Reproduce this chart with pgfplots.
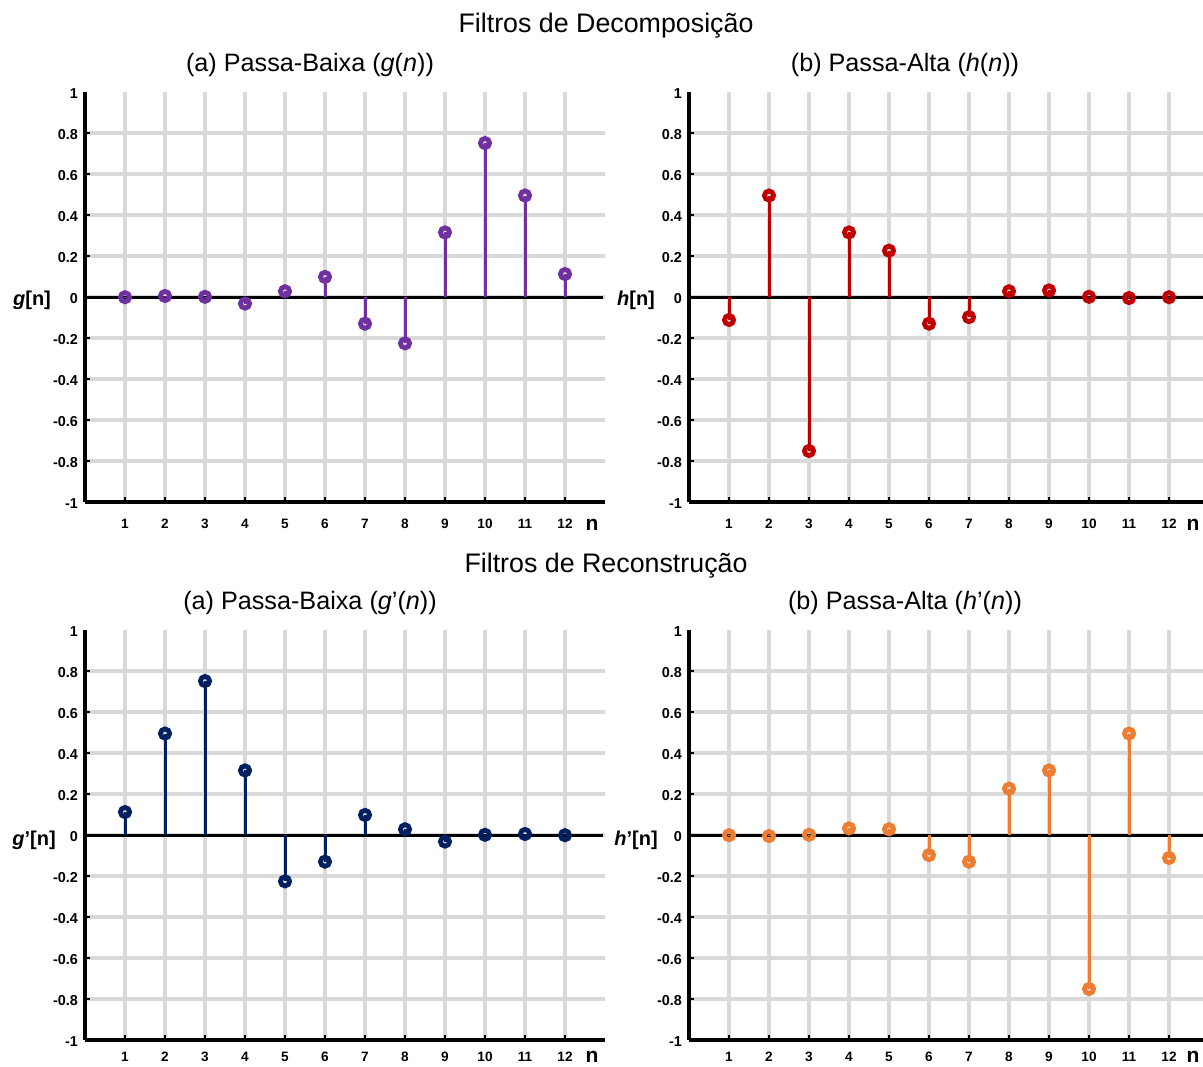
\documentclass[border=0pt]{standalone}
\usepackage{fontspec}
\setmainfont{Liberation Sans}
\usepackage{pgfplots}
\pgfplotsset{compat=1.18}
\definecolor{cpurple}{HTML}{7030A0}
\definecolor{cred}{HTML}{C00000}
\definecolor{cnavy}{HTML}{002060}
\definecolor{corange}{HTML}{ED7D31}
\definecolor{cgrid}{HTML}{D9D9D9}
\pgfplotsset{
 stemaxis/.style={
  scale only axis, width=260pt, height=205pt,
  xmin=0, xmax=13, ymin=-1, ymax=1,
  axis lines=left, axis line style={-, line width=2pt, black},
  xtick={1,2,3,4,5,6,7,8,9,10,11,12},
  xticklabels={1,2,3,4,5,6,7,8,9,10,11,12},
  ytick={-0.8,-0.6,-0.4,-0.2,0,0.2,0.4,0.6,0.8},
  yticklabels={-0.8,-0.6,-0.4,-0.2,0,0.2,0.4,0.6,0.8},
  extra y ticks={-1,1}, extra y tick labels={-1,1},
  extra y tick style={grid=none, major tick length=0pt},
  grid=major, grid style={cgrid, line width=2.1pt},
  tick align=inside, major tick length=2.5pt, tick style={black, line width=1.2pt},
  xticklabel style={font=\bfseries\fontsize{6.8}{7}\selectfont, yshift=-7.5pt, inner sep=1pt},
  yticklabel style={font=\bfseries\fontsize{7.2}{8}\selectfont, yshift=-1pt},
  clip=false,
 },
 stem/.style={ycomb, color=#1, line width=1.5pt, mark=o, mark size=2.3pt,
   mark options={line width=2.4pt, fill=white, solid}},
}
\begin{document}
\begin{tikzpicture}
% Top-left
\begin{axis}[stemaxis, at={(42.5pt,-251pt)}, anchor=south west]
\addplot[black, line width=1.5pt, no marks, forget plot] coordinates {(0,0) (12.95,0)};
\addplot[stem=cpurple] coordinates {(1,-0.001) (2,0.005) (3,0.001) (4,-0.032) (5,0.028) (6,0.098) (7,-0.130) (8,-0.226) (9,0.315) (10,0.751) (11,0.495) (12,0.112)};
\end{axis}
% Top-right
\begin{axis}[stemaxis, at={(344.5pt,-251pt)}, anchor=south west]
\addplot[black, line width=1.5pt, no marks, forget plot] coordinates {(0,0) (12.95,0)};
\addplot[stem=cred] coordinates {(1,-0.112) (2,0.495) (3,-0.751) (4,0.315) (5,0.226) (6,-0.130) (7,-0.098) (8,0.028) (9,0.032) (10,0.001) (11,-0.005) (12,-0.001)};
\end{axis}
% Bottom-left
\begin{axis}[stemaxis, at={(42.5pt,-520pt)}, anchor=south west, xticklabel style={yshift=2.5pt}]
\addplot[black, line width=1.5pt, no marks, forget plot] coordinates {(0,0) (12.95,0)};
\addplot[stem=cnavy] coordinates {(1,0.112) (2,0.495) (3,0.751) (4,0.315) (5,-0.226) (6,-0.130) (7,0.098) (8,0.028) (9,-0.032) (10,0.001) (11,0.005) (12,-0.001)};
\end{axis}
% Bottom-right
\begin{axis}[stemaxis, at={(344.5pt,-520pt)}, anchor=south west, xticklabel style={yshift=2.5pt}]
\addplot[black, line width=1.5pt, no marks, forget plot] coordinates {(0,0) (12.95,0)};
\addplot[stem=corange] coordinates {(1,-0.001) (2,-0.005) (3,0.001) (4,0.032) (5,0.028) (6,-0.098) (7,-0.130) (8,0.226) (9,0.315) (10,-0.751) (11,0.495) (12,-0.112)};
\end{axis}
% Titles
\node[font=\fontsize{13.4}{15}\selectfont] at (303pt,-13pt) {Filtros de Decomposição};
\node[font=\fontsize{12.6}{14}\selectfont] at (155pt,-32.5pt) {(a) Passa-Baixa (\textit{g}(\textit{n}))};
\node[font=\fontsize{12.6}{14}\selectfont] at (452.5pt,-32.5pt) {(b) Passa-Alta (\textit{h}(\textit{n}))};
\node[font=\fontsize{13.4}{15}\selectfont] at (303pt,-283pt) {Filtros de Reconstrução};
\node[font=\fontsize{12.6}{14}\selectfont] at (155pt,-301.5pt) {(a) Passa-Baixa (\textit{g}’(\textit{n}))};
\node[font=\fontsize{12.6}{14}\selectfont] at (452.5pt,-301.5pt) {(b) Passa-Alta (\textit{h}’(\textit{n}))};
% Axis labels
\node[font=\bfseries\fontsize{10}{12}\selectfont] at (16pt,-150pt) {\textit{g}[n]};
\node[font=\bfseries\fontsize{10}{12}\selectfont] at (318pt,-150pt) {\textit{h}[n]};
\node[font=\bfseries\fontsize{10}{12}\selectfont] at (17pt,-420pt) {\textit{g}’[n]};
\node[font=\bfseries\fontsize{10}{12}\selectfont] at (318pt,-420pt) {\textit{h}’[n]};
\node[font=\bfseries\fontsize{10.5}{12}\selectfont] at (296pt,-262.5pt) {n};
\node[font=\bfseries\fontsize{10.5}{12}\selectfont] at (596.5pt,-262.5pt) {n};
\node[font=\bfseries\fontsize{10.5}{12}\selectfont, inner sep=1pt] at (296pt,-528.5pt) {n};
\node[font=\bfseries\fontsize{10.5}{12}\selectfont, inner sep=1pt] at (596.5pt,-528.5pt) {n};
\pgfresetboundingbox
\useasboundingbox (0,0) rectangle (601.5pt,-533pt);
\end{tikzpicture}
\end{document}
